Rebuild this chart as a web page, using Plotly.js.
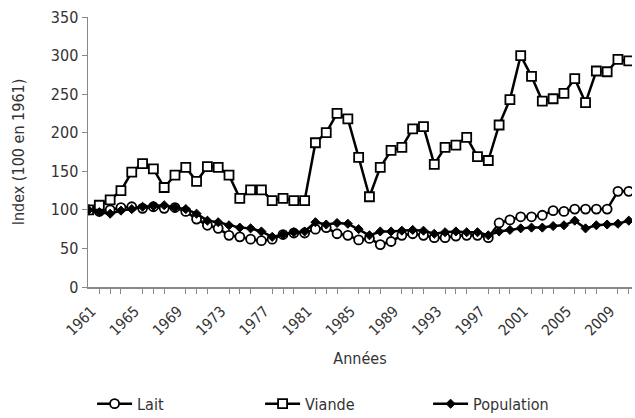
<!DOCTYPE html>
<html>
<head>
<meta charset="utf-8">
<script src="https://cdn.plot.ly/plotly-3.0.1.min.js"></script>
<style>html,body{margin:0;padding:0;background:#fff;}#chart{width:635px;height:418px;}</style>
</head>
<body>
<div id="chart"></div>
<script>
const years = [];
for (let y = 1961; y <= 2011; y++) years.push(y);

const lait = [100, 98, 100, 103, 104, 102, 104, 102, 103, 98,
  88, 80, 76, 67, 65, 62, 60, 62, 68, 70,
  70, 75, 77, 69, 67, 61, 63, 55, 59, 67,
  69, 67, 64, 64, 66, 67, 67, 64, 83, 87,
  91, 91, 93, 99, 98, 101, 101, 101, 101, 124, 124];

const viande = [100, 106, 113, 125, 149, 160, 153, 129, 145, 155,
  137, 156, 155, 145, 115, 126, 126, 112, 115, 112,
  112, 187, 200, 225, 218, 168, 117, 155, 177, 181,
  205, 208, 159, 181, 184, 194, 169, 164, 210, 243,
  300, 273, 241, 244, 251, 270, 239, 280, 279, 295, 293];

const population = [100, 97, 95, 99, 101, 104, 105, 106, 103, 101,
  95, 86, 84, 80, 77, 76, 72, 65, 68, 71,
  72, 84, 81, 83, 82, 75, 67, 72, 72, 73,
  74, 73, 69, 71, 72, 71, 71, 67, 72, 74,
  76, 77, 77, 79, 80, 86, 76, 80, 81, 82, 86];

const font = "'DejaVu Sans Condensed', 'Liberation Sans', sans-serif";
const txt = '#333';
const lineStyle = {color: '#000', width: 2.5};

const traces = [
  {x: years, y: lait, name: 'Lait', type: 'scatter', mode: 'lines+markers',
   line: lineStyle,
   marker: {symbol: 'circle', size: 9, color: '#fff', line: {color: '#000', width: 1.8}}},
  {x: years, y: viande, name: 'Viande', type: 'scatter', mode: 'lines+markers',
   line: lineStyle,
   marker: {symbol: 'square', size: 9, color: '#fff', line: {color: '#000', width: 1.8}}},
  {x: years, y: population, name: 'Population', type: 'scatter', mode: 'lines+markers',
   line: lineStyle,
   marker: {symbol: 'diamond', size: 7, color: '#000', line: {color: '#000', width: 1}}}
];

const layout = {
  width: 635, height: 418,
  margin: {l: 88, r: 3, t: 17, b: 131},
  paper_bgcolor: '#fff', plot_bgcolor: '#fff',
  font: {family: font, size: 15, color: txt},
  showlegend: true,
  legend: {orientation: 'h', xref: 'container', yref: 'container',
    x: 0.145, xanchor: 'left', y: 0.034, yanchor: 'middle',
    itemwidth: 35,
    entrywidth: 118, entrywidthmode: 'pixels', font: {family: font, size: 16, color: txt}},
  xaxis: {
    range: [1960.95, 2011.3], tick0: 1961, dtick: 4,
    automargin: false,
    showgrid: false, zeroline: false,
    showline: true, linecolor: '#888', linewidth: 1.5,
    ticks: '', tickangle: -45, tickfont: {family: font, size: 15, color: txt},
    ticklabelstandoff: 8, ticklabelshift: 3,
    minor: {dtick: 1, tick0: 1961, ticks: 'outside', ticklen: 5, tickcolor: '#888', tickwidth: 1},
    title: {text: 'Années', font: {family: font, size: 16, color: txt}, standoff: 14}
  },
  yaxis: {
    range: [0, 350], dtick: 50,
    automargin: false,
    showgrid: false, zeroline: false,
    showline: true, linecolor: '#888', linewidth: 1.5,
    ticks: 'outside', ticklen: 5, tickcolor: '#888',
    tickfont: {family: font, size: 16, color: txt},
    title: {text: 'Index (100 en 1961)', font: {family: font, size: 16, color: txt}, standoff: 22}
  }
};

Plotly.newPlot('chart', traces, layout, {displayModeBar: false, staticPlot: true});
</script>
</body>
</html>
